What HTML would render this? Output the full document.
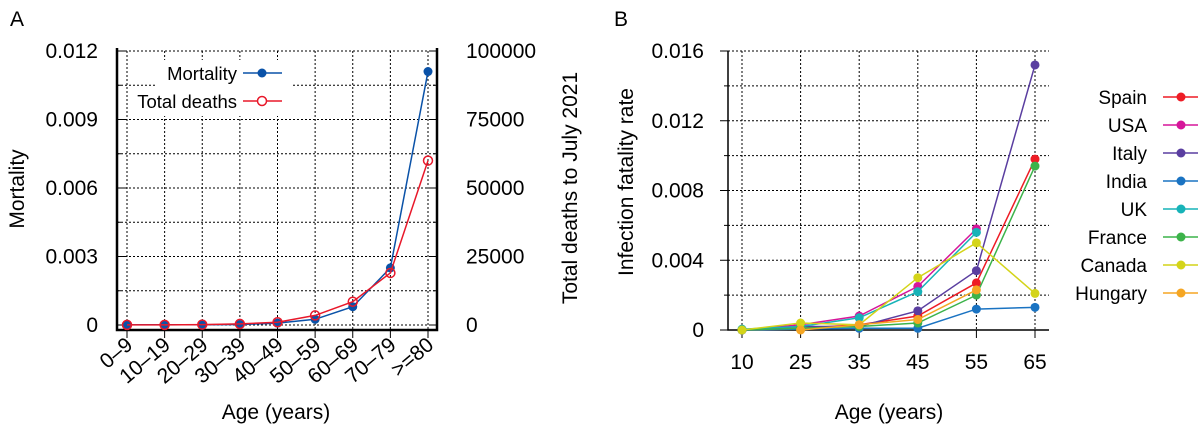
<!DOCTYPE html>
<html><head><meta charset="utf-8"><style>
body{margin:0;background:#fff;}
svg{display:block;font-family:"Liberation Sans",sans-serif;}
</style></head><body>
<svg id="c" width="1198" height="434" viewBox="0 0 1198 434" xmlns="http://www.w3.org/2000/svg">
<text x="10" y="26" font-size="21">A</text>
<text x="614" y="26" font-size="21">B</text>
<g id="pa"></g>
<g id="pb"></g>
</svg>
<script>
const ageGroups=["0–9","10–19","20–29","30–39","40–49","50–59","60–69","70–79",">=80"];
const mortality=[0.00001,0.00001,0.00001,0.00002,0.00008,0.00025,0.0008,0.0025,0.0111];
const totalDeaths=[50,50,150,400,1000,3500,8500,19000,60000];
const leftTicksA=[0,0.003,0.006,0.009,0.012];
const leftTickLabelsA=["0","0.003","0.006","0.009","0.012"];
const rightTicksA=[0,25000,50000,75000,100000];

const ageB=["10","25","35","45","55","65"];
const countries=["Spain","USA","Italy","India","UK","France","Canada","Hungary"];
const colors=["#ee1c25","#d6169a","#5a3ea0","#1a73c2","#17b3b8","#3cb34a","#d4d419","#f5a623"];
const spain=[0,0.0001,0.0003,0.0008,0.0027,0.0098];
const usa=[0,0.0003,0.0008,0.0025,0.0058,null];
const italy=[0,0.0002,0.0002,0.0011,0.0034,0.0152];
const india=[0,0.00005,0.0001,0.0001,0.0012,0.0013];
const uk=[0.00005,0.0002,0.0007,0.0022,0.0056,null];
const france=[0,0.0001,0.0002,0.0004,0.002,0.0094];
const canada=[0,0.0004,0.0003,0.003,0.005,0.0021];
const hungary=[null,0,0.0003,0.0006,0.0023,null];
const seriesB=[spain,usa,italy,india,uk,france,canada,hungary];
const yTicksB=[0,0.004,0.008,0.012,0.016];

const FS=21;
const NS="http://www.w3.org/2000/svg";
function mk(p,tag,at,txt){const e=document.createElementNS(NS,tag);for(const k in at)e.setAttribute(k,at[k]);if(txt!=null)e.textContent=txt;p.appendChild(e);return e;}

// Panel A
const A=document.getElementById('pa');
const ax0=117,ax1=437,ay0=325,ay1=51;
const xA=i=>127+i*(428-127)/(ageGroups.length-1);
const yA=v=>ay0-(v/0.012)*(ay0-ay1);
const yA2=v=>ay0-(v/100000)*(ay0-ay1);
for(let k=0;k<=8;k++){const y=yA(k*0.0015);const g=mk(A,'line',{x1:ax0,x2:ax1,y1:y,y2:y,stroke:'#000','stroke-width':1,'stroke-dasharray':'2,2'});

mk(A,'line',{x1:ax0,x2:ax0+8*(k%2?0.5:1),y1:y,y2:y,stroke:'#000'});
mk(A,'line',{x1:ax1,x2:ax1-8*(k%2?0.5:1),y1:y,y2:y,stroke:'#000'});}
ageGroups.forEach((c,i)=>{const x=xA(i);
const g=mk(A,'line',{x1:x,x2:x,y1:ay1,y2:330,stroke:'#000','stroke-dasharray':'2,2'});

mk(A,'line',{x1:x,x2:x,y1:330,y2:338,stroke:'#000'});
const t=mk(A,'text',{x:x+7,y:347,'font-size':FS,'text-anchor':'end',transform:`rotate(-40 ${x+7} 347)`},c);
});
mk(A,'path',{d:`M${ax0} ${ay1-3}V330H${ax1}V${ay1-3}`,fill:'none',stroke:'#000','stroke-width':2.5});
leftTicksA.forEach((v,i)=>{const t=mk(A,'text',{x:98,y:yA(v)+7,'font-size':FS,'text-anchor':'end'},leftTickLabelsA[i]);
});
rightTicksA.forEach(v=>{const t=mk(A,'text',{x:466,y:yA2(v)+7,'font-size':FS},String(v));
});
let t=mk(A,'text',{x:24,y:189,'font-size':FS,'text-anchor':'middle',transform:'rotate(-90 24 189)'},'Mortality');

t=mk(A,'text',{x:577,y:188,'font-size':FS,'text-anchor':'middle',transform:'rotate(-90 577 188)'},'Total deaths to July 2021');

t=mk(A,'text',{x:276,y:419,'font-size':FS,'text-anchor':'middle'},'Age (years)');

mk(A,'rect',{x:155,y:60,width:137,height:56,fill:'#fff'});
let l=mk(A,'polyline',{points:mortality.map((v,i)=>xA(i)+','+yA(v)).join(' '),fill:'none',stroke:'#0a52a8','stroke-width':1.5});

mortality.forEach((v,i)=>{const c=mk(A,'circle',{cx:xA(i),cy:yA(v),r:4.5,fill:'#0a52a8'});});
l=mk(A,'polyline',{points:totalDeaths.map((v,i)=>xA(i)+','+yA2(v)).join(' '),fill:'none',stroke:'#e8182a','stroke-width':1.5});

totalDeaths.forEach((v,i)=>{const c=mk(A,'circle',{cx:xA(i),cy:yA2(v),r:4.5,fill:'none',stroke:'#e8182a','stroke-width':1.5});});
t=mk(A,'text',{x:237,y:80,'font-size':18.5,'text-anchor':'end'},'Mortality');
mk(A,'line',{x1:243,x2:282,y1:73,y2:73,stroke:'#0a52a8','stroke-width':1.5});mk(A,'circle',{cx:262,cy:73,r:4.5,fill:'#0a52a8'});
t=mk(A,'text',{x:237,y:108,'font-size':18.5,'text-anchor':'end'},'Total deaths');
mk(A,'line',{x1:243,x2:282,y1:101,y2:101,stroke:'#e8182a','stroke-width':1.5});mk(A,'circle',{cx:262,cy:101,r:4.5,fill:'#fff',stroke:'#e8182a','stroke-width':1.5});

// Panel B
const B=document.getElementById('pb');
const bx0=728,bx1=1049,by0=330,by1=51;
const xB=i=>742+i*(1035-742)/(ageB.length-1);
const yB=v=>by0-(v/0.016)*(by0-by1);
for(let k=0;k<=8;k++){const y=yB(k*0.002);
if(k>0){const g=mk(B,'line',{x1:bx0,x2:bx1,y1:y,y2:y,stroke:'#000','stroke-dasharray':'2,2'});}
mk(B,'line',{x1:bx0,x2:bx0-(k%2?4:8),y1:y,y2:y,stroke:'#000'});}
ageB.forEach((c,i)=>{const x=xB(i);
const g=mk(B,'line',{x1:x,x2:x,y1:by1,y2:by0,stroke:'#000','stroke-dasharray':'2,2'});
mk(B,'line',{x1:x,x2:x,y1:by0,y2:by0+8,stroke:'#000'});
const tt=mk(B,'text',{x:x,y:369,'font-size':FS,'text-anchor':'middle'},c);});
mk(B,'path',{d:`M${bx0} ${by1}V${by0}H${bx1}`,fill:'none',stroke:'#000','stroke-width':1.5});
yTicksB.forEach(v=>{const tt=mk(B,'text',{x:704,y:yB(v)+7,'font-size':FS,'text-anchor':'end'},v===0?'0':v.toFixed(3));});
t=mk(B,'text',{x:633,y:182,'font-size':FS,'text-anchor':'middle',transform:'rotate(-90 633 182)'},'Infection fatality rate');
t=mk(B,'text',{x:889,y:419,'font-size':FS,'text-anchor':'middle'},'Age (years)');
seriesB.forEach((s,k)=>{const col=colors[k];const pts=[];s.forEach((v,i)=>{if(v!=null)pts.push(xB(i)+','+yB(v));});
const pl=mk(B,'polyline',{points:pts.join(' '),fill:'none',stroke:col,'stroke-width':1.5});

s.forEach((v,i)=>{if(v==null)return;const c=mk(B,'circle',{cx:xB(i),cy:yB(v),r:4.5,fill:col});});
const ly=97+k*28;
const lt=mk(B,'text',{x:1147,y:ly+7,'font-size':19,'text-anchor':'end'},countries[k]);

mk(B,'line',{x1:1163,x2:1198,y1:ly,y2:ly,stroke:col,'stroke-width':1.5});
mk(B,'circle',{cx:1181,cy:ly,r:4.5,fill:col});});
</script>
</body></html>
